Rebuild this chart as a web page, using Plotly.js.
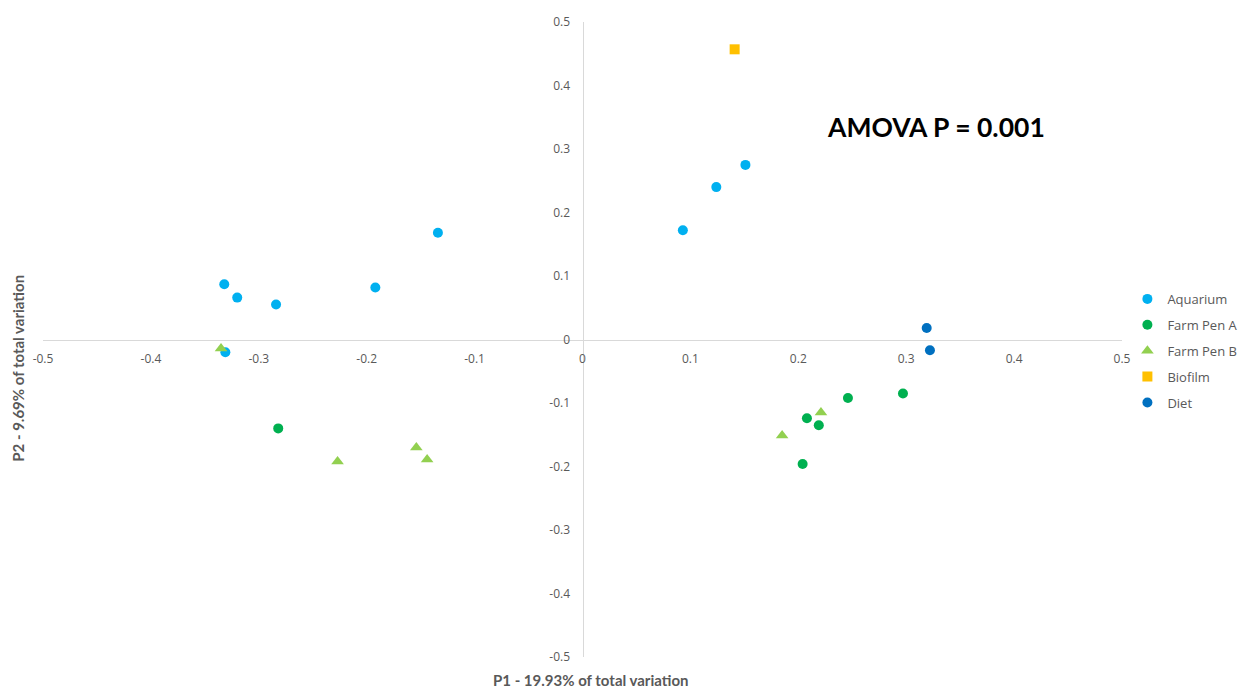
<!DOCTYPE html>
<html>
<head>
<meta charset="utf-8">
<script src="https://cdn.plot.ly/plotly-3.0.1.min.js"></script>
<style>html,body{margin:0;padding:0;background:#fff;}#chart{width:1241px;height:690px;}</style>
</head>
<body>
<div id="chart"></div>
<script>
// Data
const seriesNames = ["Aquarium", "Farm Pen A", "Farm Pen B", "Biofilm", "Diet"];

const aquariumX = [-0.332, -0.320, -0.284, -0.192, -0.134, -0.331, 0.093, 0.124, 0.151];
const aquariumY = [0.087, 0.066, 0.055, 0.082, 0.168, -0.020, 0.172, 0.240, 0.275];

const farmPenAX = [-0.282, 0.246, 0.297, 0.208, 0.219, 0.204];
const farmPenAY = [-0.140, -0.092, -0.085, -0.124, -0.135, -0.196];

const farmPenBX = [-0.335, -0.227, -0.154, -0.144, 0.221, 0.185];
const farmPenBY = [-0.014, -0.192, -0.170, -0.189, -0.115, -0.151];

const biofilmX = [0.141];
const biofilmY = [0.457];

const dietX = [0.319, 0.322];
const dietY = [0.018, -0.017];

const tickVals = [-0.5, -0.4, -0.3, -0.2, -0.1, 0, 0.1, 0.2, 0.3, 0.4, 0.5];
const tickText = ["-0.5", "-0.4", "-0.3", "-0.2", "-0.1", "0", "0.1", "0.2", "0.3", "0.4", "0.5"];

const xTitle = "P1 - 19.93% of total variation";
const yTitle = "P2 - 9.69% of total variation";
const noteText = "AMOVA P = 0.001";

function tr(name, x, y, color, symbol, size) {
  return {
    type: "scatter", mode: "markers", name: name, x: x, y: y,
    legendgroup: name,
    marker: {color: color, symbol: symbol, size: size, line: {width: 0}},
    hoverinfo: "x+y+name"
  };
}

const data = [
  tr(seriesNames[0], aquariumX, aquariumY, "#00b0f0", "circle", 10),
  tr(seriesNames[1], farmPenAX, farmPenAY, "#00b050", "circle", 10),
  tr(seriesNames[2], farmPenBX, farmPenBY, "#92d050", "triangle-up", 11),
  tr(seriesNames[3], biofilmX, biofilmY, "#ffc000", "square", 10),
  tr(seriesNames[4], dietX, dietY, "#0070c0", "circle", 10)
];

const tickFont = {family: "Open Sans, Noto Sans, sans-serif", size: 12, color: "#595959"};

const layout = {
  width: 1241, height: 690,
  margin: {l: 43, r: 119, t: 22, b: 33, pad: 0, autoexpand: false},
  paper_bgcolor: "#ffffff", plot_bgcolor: "#ffffff",
  showlegend: true,
  legend: {
    x: 1.005, y: 0.482, xanchor: "left", yanchor: "middle",
    font: {family: "Open Sans, Noto Sans, sans-serif", size: 13, color: "#595959"},
    tracegroupgap: 6, traceorder: "grouped", itemwidth: 30,
    bgcolor: "rgba(0,0,0,0)"
  },
  xaxis: {
    range: [-0.5, 0.5], autorange: false,
    anchor: "free", position: 0.5,
    tickvals: tickVals, ticktext: tickText, tickmode: "array",
    showgrid: false, zeroline: false,
    showline: true, linecolor: "#d9d9d9", linewidth: 1,
    ticks: "", ticklabelstandoff: 8,
    tickfont: tickFont
  },
  yaxis: {
    range: [-0.5, 0.5], autorange: false,
    anchor: "free", position: 0.5,
    tickvals: tickVals, ticktext: tickText, tickmode: "array",
    showgrid: false, zeroline: false,
    showline: true, linecolor: "#d9d9d9", linewidth: 1,
    ticks: "", ticklabelstandoff: 10,
    tickfont: tickFont
  },
  annotations: [
    {text: "<b>" + xTitle + "</b>", xref: "paper", yref: "paper", x: 0.508, y: -0.037,
     xanchor: "center", yanchor: "middle", showarrow: false,
     font: {family: "Lato, Noto Sans, sans-serif", size: 15, color: "#595959"}},
    {text: "<b>" + yTitle + "</b>", xref: "paper", yref: "paper", x: -0.0235, y: 0.455,
     xanchor: "center", yanchor: "middle", textangle: -90, showarrow: false,
     font: {family: "Lato, Noto Sans, sans-serif", size: 15, color: "#595959"}},
    {text: "<b>" + noteText + "</b>", xref: "x", yref: "y", x: 0.3275, y: 0.334,
     xanchor: "center", yanchor: "middle", showarrow: false,
     font: {family: "Lato, Noto Sans, sans-serif", size: 26.5, color: "#000000"}}
  ]
};

Plotly.newPlot("chart", data, layout, {displayModeBar: false});
</script>
</body>
</html>
